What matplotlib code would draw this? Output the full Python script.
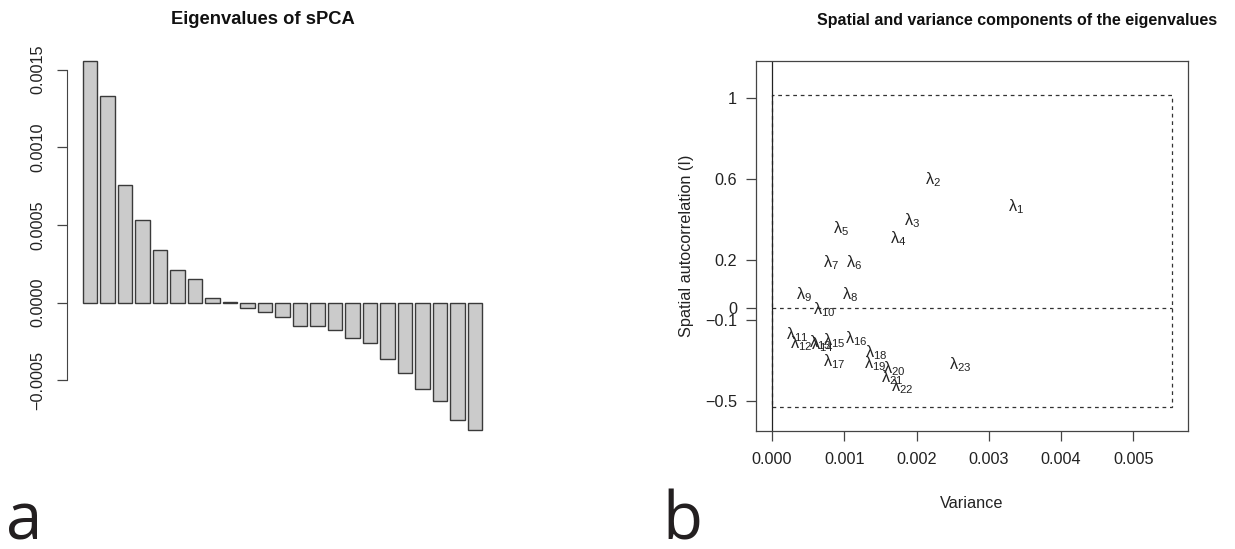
import numpy as np
import matplotlib
matplotlib.use('Agg')
import matplotlib.pyplot as plt
from matplotlib.patches import Rectangle

# Dati letti dal grafico
# autovalori della sPCA (pannello a)
eig = [0.001557, 0.00133, 0.000755, 0.00053, 0.000337, 0.00021, 0.00015,
       0.00003, 0.000003, -0.000036, -0.000062, -0.00009, -0.000148,
       -0.000152, -0.000174, -0.000225, -0.00026, -0.000364, -0.00045,
       -0.000557, -0.000633, -0.000753, -0.000821]

# componenti di varianza e autocorrelazione spaziale (pannello b)
var_comp = [0.00337, 0.00223, 0.001931, 0.001749, 0.000958, 0.001134, 0.000818,
            0.001085, 0.00044, 0.000716, 0.000348, 0.000403, 0.000664, 0.0007,
            0.00086, 0.00117, 0.000864, 0.001435, 0.00143, 0.001684, 0.001666,
            0.0018, 0.00261]
moran_I = [0.461, 0.598, 0.393, 0.307, 0.352, 0.185, 0.185, 0.029, 0.026,
           -0.047, -0.170, -0.216, -0.208, -0.219, -0.199, -0.191, -0.302,
           -0.261, -0.311, -0.336, -0.381, -0.425, -0.319]

I0 = -0.0406
Imin = -0.526
Imax = 1.015
xmax = 0.005534

left_ticks = [-0.0005, 0.0, 0.0005, 0.0010, 0.0015]
left_ticklabels = ['\u22120.0005', '0.0000', '0.0005', '0.0010', '0.0015']
x_ticks = [0.000, 0.001, 0.002, 0.003, 0.004, 0.005]

plt.rcParams['font.family'] = ['Liberation Sans', 'DejaVu Sans']
plt.rcParams['mathtext.fontset'] = 'custom'
plt.rcParams['mathtext.rm'] = 'Liberation Sans'
plt.rcParams['mathtext.it'] = 'Liberation Sans'
plt.rcParams['mathtext.bf'] = 'Liberation Sans:bold'

W, H = 1235, 549
fig = plt.figure(figsize=(W / 100, H / 100), dpi=100)


def box(x0, y0, x1, y1):
    # pixel -> coordinate figura
    return [x0 / W, 1 - y1 / H, (x1 - x0) / W, (y1 - y0) / H]


txtcol = '#222222'
axcol = '#444444'
fs = 11.7

# ---- pannello a: barplot ----
ax1 = fig.add_axes(box(66.7, 46, 498.3, 445))
n = len(eig)
centers = 0.7 + 1.2 * np.arange(n)
ax1.bar(centers, eig, width=1.0, color='#cbcbcb', edgecolor='#3a3a3a', linewidth=1.0)
ax1.set_xlim(0.2 - 0.04 * 27.4, 27.6 + 0.04 * 27.4)
lo, hi = min(min(eig), 0), max(eig)
pad = 0.04 * (hi - lo)
ax1.set_ylim(lo - pad, hi + pad)
for s in ['top', 'right', 'bottom']:
    ax1.spines[s].set_visible(False)
ax1.spines['left'].set_bounds(left_ticks[0], left_ticks[-1])
ax1.spines['left'].set_color(axcol)
ax1.set_xticks([])
ax1.set_yticks(left_ticks)
ax1.set_yticklabels(left_ticklabels, rotation=90, va='center')
ax1.tick_params(axis='y', length=7.2, width=0.9, color=axcol, pad=8.5,
                labelsize=fs, labelcolor=txtcol)
fig.text(263 / W, 1 - 20 / H, 'Eigenvalues of sPCA', ha='center', va='center',
         fontsize=13.2, fontweight='bold', color='#111111')

# ---- pannello b: varianza vs autocorrelazione ----
ax2 = fig.add_axes(box(756, 60.7, 1188, 431))
ax2.set_xlim(-0.04 * xmax, 1.04 * xmax)
yl0, yl1 = Imin * 1.1, Imax * 1.1
ypad = 0.04 * (yl1 - yl0)
ax2.set_ylim(yl0 - ypad, yl1 + ypad)
for i, (vx, vy) in enumerate(zip(var_comp, moran_I)):
    ax2.text(vx, vy, r'$\lambda_{%d}$' % (i + 1), ha='center', va='center',
             fontsize=fs, color=txtcol)
ax2.add_patch(Rectangle((0, Imin), xmax, Imax - Imin, fill=False,
                        linestyle=(0, (3, 3)), linewidth=0.9, edgecolor='#333333'))
ax2.plot([0, xmax], [I0, I0], linestyle=(0, (3, 3)), linewidth=0.9, color='#333333')
ax2.axvline(0, color='#222222', linewidth=0.9)

ytick = np.round(np.linspace(Imin, Imax, 5), 1)
yticks = [I0] + list(ytick)
ylabels = ['%g' % (round(I0, 1) + 0.0)] + ['%g' % (t + 0.0) for t in ytick]
ylabels = [l.replace('-', '\u2212') for l in ylabels]
ax2.set_yticks(yticks)
ax2.set_yticklabels(ylabels)
ax2.set_xticks(x_ticks)
ax2.set_xticklabels(['%.3f' % t for t in x_ticks])
for s in ax2.spines.values():
    s.set_color(axcol)
    s.set_linewidth(0.9)
ax2.tick_params(axis='y', length=7.2, width=0.9, color=axcol, pad=6.5,
                labelsize=fs, labelcolor=txtcol)
ax2.tick_params(axis='x', length=7.2, width=0.9, color=axcol, pad=8,
                labelsize=fs, labelcolor=txtcol)
fig.text(686.5 / W, 1 - 245.9 / H, 'Spatial autocorrelation (I)', rotation=90,
         ha='center', va='center', fontsize=fs, color=txtcol)
fig.text(972 / W, 1 - 503 / H, 'Variance', ha='center', va='center',
         fontsize=fs, color=txtcol)
fig.text(1017 / W, 1 - 20 / H, 'Spatial and variance components of the eigenvalues',
         ha='center', va='center', fontsize=11.5, fontweight='bold', color='#111111')

# lettere dei pannelli
fig.text(6 / W, 1 - 539 / H, 'a', ha='left', va='baseline', fontsize=47,
         family='Open Sans', color='#231f20')
fig.text(662 / W, 1 - 539 / H, 'b', ha='left', va='baseline', fontsize=47,
         family='Open Sans', color='#231f20')

fig.savefig('out.png', dpi=100)
